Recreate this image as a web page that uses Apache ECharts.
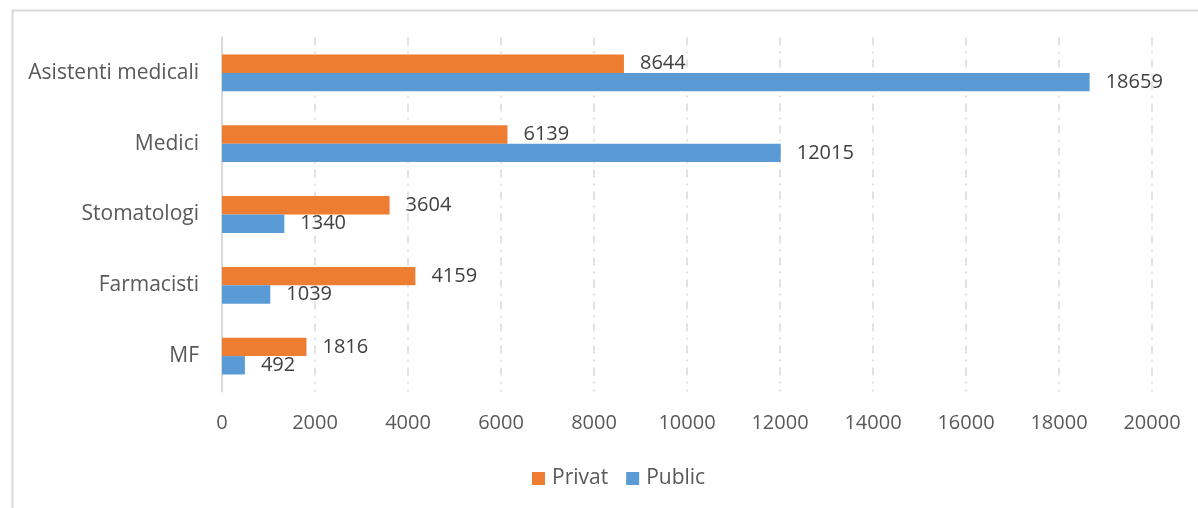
<!DOCTYPE html>
<html>
<head>
<meta charset="utf-8">
<style>
  html, body { margin: 0; padding: 0; background: #fff; }
  #chart { width: 1198px; height: 508px; }
</style>
<script src="https://cdn.jsdelivr.net/npm/echarts@6/dist/echarts.min.js"></script>
</head>
<body>
<div id="chart"></div>
<script>
// Categories listed bottom to top along the vertical axis
const categories = ['MF', 'Farmacisti', 'Stomatologi', 'Medici', 'Asistenti medicali'];
const privatValues = [1816, 4159, 3604, 6139, 8644];
const publicValues = [492, 1039, 1340, 12015, 18659];
const seriesNames = ['Privat', 'Public'];

const FONT = '"Open Sans", "Noto Sans", sans-serif';
const FONT_SIZE = 20;
const chart = echarts.init(document.getElementById('chart'));

const labelStyle = {
  show: true,
  position: 'right',
  distance: 16,
  color: '#404040',
  fontSize: FONT_SIZE,
  fontFamily: FONT
};

chart.setOption({
  animation: false,
  backgroundColor: '#fff',
  graphic: [{
    type: 'rect',
    left: 10, top: 8,
    shape: { width: 1200, height: 520 },
    style: { fill: 'none', stroke: '#d9d9d9', lineWidth: 2 },
    silent: true
  }],
  grid: { left: 222, right: 46, top: 37.5, bottom: 116.5, containLabel: false },
  legend: {
    top: 463,
    left: 527,
    itemWidth: 13,
    itemHeight: 13,
    itemGap: 18,
    icon: 'rect',
    textStyle: { color: '#595959', fontSize: 21, fontFamily: FONT, padding: [0, 0, 0, 2] },
    data: seriesNames
  },
  xAxis: {
    type: 'value',
    min: 0, max: 20000, interval: 2000,
    axisLine: { show: false },
    axisTick: { show: false },
    axisLabel: {
      color: '#595959', fontSize: FONT_SIZE, fontFamily: FONT, margin: 22,
      formatter: v => String(v)
    },
    splitLine: { lineStyle: { color: '#d9d9d9', width: 1.5, type: [8, 6, 2, 6] } }
  },
  yAxis: {
    type: 'category',
    data: categories,
    axisLine: { lineStyle: { color: '#d9d9d9', width: 2 } },
    axisTick: { show: false },
    axisLabel: { color: '#595959', fontSize: 21, fontFamily: FONT, margin: 23 },
    splitLine: { show: false }
  },
  series: [
    {
      name: seriesNames[0], type: 'bar', data: privatValues,
      itemStyle: { color: '#ED7D31' },
      barGap: '0%', barCategoryGap: '48%',
      label: labelStyle
    },
    {
      name: seriesNames[1], type: 'bar', data: publicValues,
      itemStyle: { color: '#5B9BD5' },
      barGap: '0%', barCategoryGap: '48%',
      label: labelStyle
    }
  ]
});
</script>
</body>
</html>
